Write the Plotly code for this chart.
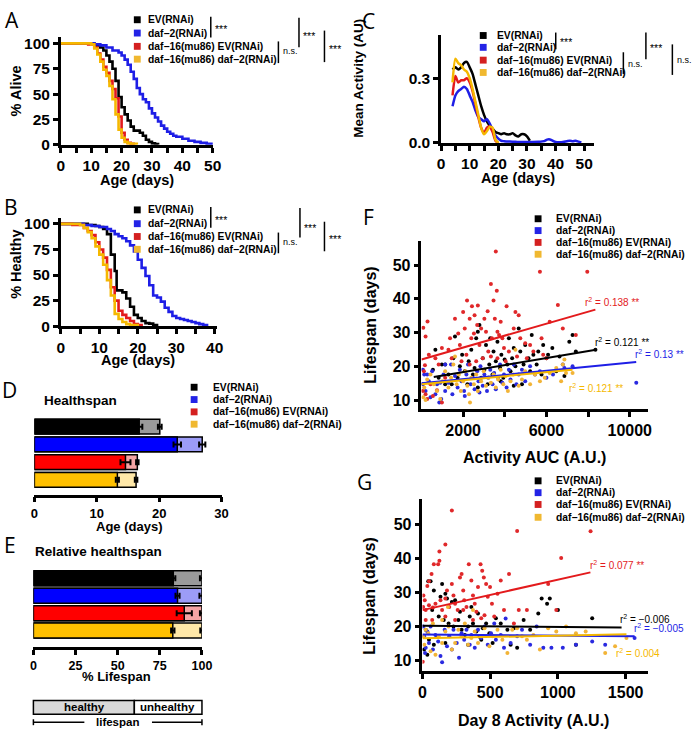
import plotly.graph_objects as go

W, H = 700, 745
FONT = "Liberation Sans, Arial, sans-serif"
LFONT = "Open Sans, DejaVu Sans, sans-serif"

def px(x):
    return x / W

def py(y):
    return 1 - y / H

# ---------------- data ----------------
groups = ["EV(RNAi)", "daf−2(RNAi)", "daf−16(mu86) EV(RNAi)", "daf−16(mu86) daf−2(RNAi)"]
line_colors = ["#000000", "#1e1ee6", "#e31a1c", "#f5b800"]
square_colors = ["#000000", "#2323e6", "#d42020", "#f0b830"]
dot_colors = ["#000000", "#2a2ae0", "#e0282a", "#f2b437"]
bar_dark = ["#000000", "#0000ff", "#ff0000", "#ffc000"]
bar_light = ["#9a9a9a", "#9c9cf7", "#f4a4a4", "#ffe8a8"]

# A: survival
A_EV_day = [0, 11, 12, 13, 14, 15, 16, 17, 18, 19, 20, 21, 22, 23, 24, 26, 27, 28, 29, 30, 31, 32]
A_EV_pct = [100, 99, 98, 96, 93, 88, 82, 75, 63, 47, 37, 30, 24, 18, 14, 12, 9, 5, 3, 1.5, 0.8, 0]
A_D2_day = [0, 11, 13, 15, 17, 19, 20, 21, 22, 23, 24, 25, 26, 27, 28, 29, 30, 31, 32, 33, 34, 35, 36, 37, 38, 40, 42, 44, 46, 48, 50]
A_D2_pct = [100, 99, 98, 96, 93, 91, 88, 84, 79, 72, 65, 56, 50, 45, 42, 36, 31, 27, 23, 19, 16, 13, 11, 9, 8, 6, 4, 3, 2, 1, 0]
A_D16EV_day = [0, 9, 11, 12, 13, 14, 15, 16, 17, 18, 19, 20, 21, 22, 23, 24]
A_D16EV_pct = [100, 99, 96, 90, 84, 77, 71, 63, 55, 46, 28, 12, 5, 2, 1, 0]
A_D16D2_day = [0, 10, 11, 12, 13, 14, 15, 16, 17, 18, 19, 20, 21, 22, 23, 25]
A_D16D2_pct = [100, 99, 95, 89, 82, 74, 68, 58, 45, 30, 15, 7, 3, 1.5, 1, 0]

# B: healthy
B_EV_day = [0, 7, 9, 10, 11, 12, 13, 14, 14.5, 16, 17, 18, 19, 20, 21, 22, 23, 24, 25]
B_EV_pct = [100, 99, 98, 97, 95, 90, 70, 54, 35, 33, 27, 19, 11, 8, 5, 3, 2.5, 1, 0]
B_D2_day = [0, 6, 8, 10, 12, 13, 14, 15, 16, 17, 18, 19, 20, 21, 22, 23, 24, 25, 26, 27, 28, 29, 30, 31, 32, 33, 34, 35, 36, 37, 38]
B_D2_pct = [100, 99, 98, 97, 95, 93, 90, 88, 86, 83, 79, 73, 65, 57, 49, 40, 30, 28, 24, 18, 14, 10, 8, 7, 6, 5, 4, 3, 2, 1, 0]
B_D16EV_day = [0, 3, 6, 7, 8, 9, 10, 11, 12, 13, 14, 15, 16, 17, 18, 19, 20, 21]
B_D16EV_pct = [100, 99, 96, 93, 89, 82, 75, 67, 55, 38, 25, 15, 11, 8, 5, 2, 1, 0]
B_D16D2_day = [0, 5, 6, 7, 8, 9, 10, 11, 12, 13, 14, 15, 16, 17, 18, 20]
B_D16D2_pct = [100, 99, 96, 92, 86, 78, 70, 60, 45, 30, 12, 7, 4, 2, 1, 0]

# C: mean activity
C_EV_day = [4, 5, 6, 7, 8, 9, 10, 11, 12, 13, 14, 15, 16, 17, 18, 19, 20, 21, 22, 23, 24, 25, 26, 27, 28, 29, 30, 31]
C_EV_act = [0.34, 0.35, 0.34, 0.35, 0.37, 0.375, 0.35, 0.32, 0.27, 0.22, 0.17, 0.13, 0.10, 0.08, 0.065, 0.05, 0.045, 0.04, 0.045, 0.04, 0.04, 0.045, 0.035, 0.03, 0.04, 0.04, 0.03, 0.01]
C_D2_day = [4, 5, 6, 7, 8, 9, 10, 11, 12, 13, 14, 15, 16, 17, 18, 19, 20, 21, 22, 24, 26, 28, 30, 32, 34, 36, 37, 38, 39, 40, 42, 44, 45, 46, 47, 48, 49]
C_D2_act = [0.17, 0.22, 0.24, 0.25, 0.26, 0.25, 0.22, 0.19, 0.15, 0.12, 0.11, 0.10, 0.11, 0.09, 0.06, 0.035, 0.02, 0.01, 0.008, 0.006, 0.005, 0.004, 0.004, 0.004, 0.005, 0.008, 0.015, 0.016, 0.01, 0.004, 0.003, 0.008, 0.01, 0.008, 0.01, 0.006, 0.002]
C_D16EV_day = [4, 5, 6, 7, 8, 9, 10, 11, 12, 13, 14, 15, 16, 17, 18, 19, 20]
C_D16EV_act = [0.22, 0.31, 0.28, 0.29, 0.29, 0.30, 0.28, 0.24, 0.18, 0.12, 0.07, 0.045, 0.07, 0.075, 0.05, 0.01, 0.0]
C_D16D2_day = [4, 5, 6, 7, 8, 9, 10, 11, 12, 13, 14, 15, 16, 17, 18, 19, 20]
C_D16D2_act = [0.28, 0.39, 0.37, 0.36, 0.34, 0.33, 0.30, 0.25, 0.19, 0.13, 0.07, 0.04, 0.055, 0.075, 0.07, 0.015, 0.0]

# D: healthspan (days)
D_healthy = [16.8, 22.9, 14.6, 13.3]
D_healthy_err = [0.5, 0.6, 0.8, 0.25]
D_life = [20.1, 26.9, 16.5, 16.3]
D_life_err = [0.3, 0.5, 0.2, 0.2]

# E: relative healthspan (% lifespan)
E_healthy = [83.0, 85.5, 89.5, 82.7]
E_healthy_err = [1.2, 1.2, 4.5, 1.0]
E_life = [100, 100, 100, 100]
E_life_err = [1.2, 1.5, 1.2, 1.0]

# F: activity AUC vs lifespan
F_EV_x = [549, 667, 824, 980, 1137, 1294, 1530, 1608, 1734, 1843, 1953, 2078, 2204, 2267, 2392, 2471, 2549, 2628, 2706, 2784, 2863, 2941, 3020, 3098, 3177, 3255, 3302, 3412, 3459, 3569, 3647, 3773, 3836, 3930, 3992, 4118, 4196, 4275, 4353, 4431, 4510, 4667, 4745, 4824, 4902, 4981, 5138, 5216, 5294, 5373, 5530, 5608, 5765, 5844, 6000, 6079, 6283, 6471, 6628, 6863, 7098, 7255, 7412, 8353, 3804, 4431, 2706, 1451, 1137]
F_EV_y = [19, 24.9, 16.6, 20.5, 14.7, 17.6, 22.4, 28.8, 16.6, 20, 23.4, 18.5, 14.7, 21.5, 24.9, 17.6, 19.5, 28.3, 30.2, 32.2, 16.6, 22.4, 19, 26.3, 14.7, 20.5, 28.3, 17.6, 24.4, 21.5, 27.3, 19.5, 23.4, 16.6, 22, 20.5, 28.3, 18.5, 22.4, 25.4, 20, 31.2, 24.4, 14.7, 20.5, 26.3, 22.4, 18.5, 29.3, 23.4, 20.5, 24.4, 17.6, 26.3, 22.4, 23.4, 25.4, 18.5, 22.9, 17.1, 27.3, 29.3, 24.4, 24.9, 15.6, 14.2, 13.7, 14.7, 20.5]
F_D2_x = [70, 133, 70, 196, 353, 431, 510, 667, 745, 855, 949, 1059, 1137, 1294, 1420, 1483, 1608, 1734, 1843, 1922, 2047, 2157, 2235, 2361, 2471, 2549, 2675, 2737, 2831, 2941, 3020, 3145, 3208, 3302, 3412, 3490, 3569, 3679, 3773, 3883, 3961, 4086, 4196, 4275, 4431, 4557, 4667, 4824, 4981, 5216, 5451, 5687, 6000, 6314, 6785, 6863, 7255, 2784, 2078, 902, 275, 1137, 10314]
F_D2_y = [19, 17.6, 14.7, 12.7, 15.6, 10.8, 18.5, 11.7, 14.7, 9.3, 10.3, 17.6, 12.7, 15.1, 20.5, 11.7, 17.1, 13.7, 19, 15.6, 12.7, 17.6, 20.5, 14.7, 16.6, 13.2, 18.5, 15.6, 20, 14.2, 17.6, 12.7, 16.6, 19, 14.7, 18, 13.2, 16.6, 20.5, 15.1, 17.6, 13.7, 19, 16.1, 20.5, 14.7, 17.6, 19, 15.6, 20, 17.6, 18.5, 16.6, 17.6, 20.5, 19.5, 20, 12.2, 11.2, 15.1, 17.6, 20.5, 15.1]
F_D16EV_x = [86, 196, 290, 165, 353, 118, 70, 549, 745, 980, 1137, 824, 667, 980, 1294, 1372, 1608, 1765, 1843, 2000, 2078, 2188, 2314, 2392, 2424, 2518, 2549, 2675, 2706, 2784, 2863, 3020, 3098, 3177, 3208, 3334, 3381, 3459, 3522, 3569, 3616, 3647, 3726, 3804, 3883, 3961, 4086, 4196, 4431, 4510, 4667, 4745, 4981, 5216, 5373, 5687, 5765, 5844, 6000, 6157, 6549, 6785, 7412, 7961, 196, 275, 431, 1451, 1922, 2157, 2314, 2628, 2941, 3334, 3647, 4039, 4588, 5059]
F_D16EV_y = [31.4, 28.8, 33.3, 20.3, 23.4, 18.5, 12.7, 11.2, 12.9, 9.3, 16.6, 20.5, 22.4, 25.4, 24.9, 28.3, 34.1, 29.7, 26.3, 36.1, 31.2, 39.5, 34.1, 28.3, 37.8, 29.7, 35.1, 32.2, 38, 26.3, 31.2, 34.1, 30.2, 36.3, 24.4, 44.4, 28.3, 39.5, 34.1, 54, 42.4, 30.2, 29.3, 33.2, 28.3, 25.4, 37.8, 24.4, 31.2, 36.1, 35.1, 28.3, 26.8, 26.3, 24.4, 48, 28.3, 23.4, 22.4, 33.2, 38.2, 31.2, 29.3, 48, 11.7, 10.3, 14.7, 22.4, 21.5, 23.4, 20.5, 21.5, 22.4, 22.9, 22.4, 21.5, 22.9, 22.4]
F_D16D2_x = [86, 196, 133, 275, 431, 588, 745, 902, 1012, 1137, 1294, 1420, 1530, 1608, 1687, 1796, 1890, 2000, 2110, 2204, 2283, 2330, 2392, 2518, 2628, 2706, 2863, 2988, 3098, 3208, 3334, 3459, 3569, 3679, 3804, 3930, 4039, 4149, 4275, 4400, 4510, 4667, 4824, 4981, 5216, 5451, 5687, 5922, 6157, 6471, 6706, 6863, 6941, 7255, 6785]
F_D16D2_y = [10.8, 10, 13.7, 16.1, 17.6, 14.7, 12.7, 10.3, 15.6, 18.5, 13.7, 16.6, 20.5, 22.9, 14.7, 17.6, 12.7, 15.6, 18.5, 14.2, 11.7, 9.3, 16.6, 14.7, 17.6, 12.7, 15.6, 18.5, 14.2, 16.6, 15.1, 17.6, 13.7, 16.1, 19, 14.7, 17.1, 12.7, 15.6, 17.6, 24.9, 14.2, 16.1, 18.5, 14.7, 17.6, 15.6, 16.6, 18, 19.5, 15.6, 22, 18, 18, 20.5]

# F regression lines (end points) and labels
F_fit_x = [[590, 8380], [0, 10310], [0, 8350], [0, 7250]]
F_fit_y = [[16.8, 24.9], [15.0, 21.3], [22.0, 36.8], [14.7, 19.0]]
F_r2 = ["0.121 **", "0.13 **", "0.138 **", "0.121 **"]

# G: day-8 activity vs lifespan
G_EV_x = [60, 43, 145, 84, 169, 133, 181, 241, 217, 72, 120, 157, 193, 229, 265, 289, 313, 337, 373, 398, 422, 446, 470, 494, 518, 542, 578, 627, 651, 675, 699, 747, 795, 855, 920, 880, 940, 1000, 1133, 1253, 24, 48, 84, 108, 169, 12, 36, 337, 434, 349, 277, 361, 410]
G_EV_y = [33.2, 33.2, 32.4, 30.5, 29.5, 28.6, 28.1, 27.6, 27.1, 24.7, 22.8, 21.8, 20.8, 19.9, 21.8, 18.9, 17.4, 19.9, 20.8, 18.4, 16.9, 19.4, 20.8, 17.9, 15, 22.3, 20.8, 18.9, 14.5, 19.4, 13.6, 21.8, 18.9, 23.7, 26.6, 28.1, 28.1, 24.7, 14.5, 22.3, 18.9, 16, 14.5, 16.9, 15, 13.1, 11.6, 14.5, 16, 22.8, 24.2, 25.6, 23.7]
G_D2_x = [5, 12, 24, 19, 36, 48, 60, 77, 96, 116, 133, 145, 164, 181, 198, 217, 229, 253, 270, 289, 308, 325, 349, 361, 386, 410, 434, 458, 482, 506, 542, 578, 602, 651, 699, 735, 795, 843, 892, 952, 1036, 1133, 1253, 1349, 1566, 614, 530]
G_D2_y = [19.9, 17, 13.6, 12.1, 18.4, 15, 19.9, 13.1, 17.4, 15.5, 11.2, 9.4, 18.9, 14.1, 17, 13.1, 18.9, 15, 10.7, 17.9, 16, 18.9, 14.5, 17.4, 13.6, 18.9, 16.5, 19.9, 14.5, 17.9, 16, 17.4, 13.6, 15, 17, 18.9, 14.5, 19.9, 13.6, 13.6, 13.6, 14.5, 15.5, 14.5, 16.5, 22.2, 20.8]
G_D16EV_x = [217, 169, 125, 116, 84, 125, 48, 36, 67, 7, 17, 5, 24, 48, 77, 96, 133, 145, 169, 181, 198, 217, 229, 241, 260, 277, 289, 301, 308, 325, 342, 361, 373, 386, 398, 410, 429, 441, 453, 470, 482, 499, 513, 530, 554, 578, 602, 639, 675, 711, 699, 1024, 1241, 928, 771, 988, 24, 72, 169, 241, 301, 373, 458, 2, 434]
G_D16EV_y = [54, 44, 41.9, 38.2, 38.2, 39.2, 33.2, 31.8, 35.3, 29, 27.6, 25.6, 24.7, 26.1, 25.5, 26.6, 27.6, 24.7, 28.1, 30.5, 25.6, 32.4, 29, 26.6, 24.7, 34.3, 35.3, 30.5, 27.6, 25.6, 38.2, 33.4, 29, 26.6, 24.2, 31.5, 38.2, 36.3, 34.3, 32.4, 28.6, 31.5, 26.6, 22.8, 29.5, 33.4, 24.7, 35.3, 20.8, 24.7, 48, 40, 47.9, 32.4, 24.7, 24.7, 21.8, 21.8, 22.8, 21.8, 24.7, 21.8, 23.2, 9.5, 22.3]
G_D16D2_x = [5, 14, 24, 43, 60, 77, 96, 120, 145, 169, 193, 217, 241, 265, 289, 313, 337, 361, 386, 410, 434, 458, 494, 518, 554, 590, 627, 663, 699, 735, 771, 819, 867, 928, 988, 1060, 1133, 1205, 1349, 1422, 1506, 188, 373, 145]
G_D16D2_y = [17, 14.5, 18.9, 17.9, 12.6, 20.8, 11.6, 17, 15, 18.4, 19.9, 13.1, 15, 18.9, 17, 20.8, 14.5, 16.5, 18.4, 15, 17, 19.4, 14.1, 17, 18.9, 16, 12.1, 18.9, 19.4, 17, 16, 17.4, 13.1, 19.4, 18.4, 19.9, 17.9, 18.4, 12.1, 14.1, 16.5, 25.6, 24.7, 21.8]

G_fit_x = [[0, 1470], [0, 1566], [0, 1240], [0, 1506]]
G_fit_y = [[20.1, 19.6], [17.5, 17.0], [24.7, 35.8], [16.4, 17.6]]
G_r2 = ["−0.006", "−0.005", "0.077 **", "0.004"]

# ---------------- figure ----------------
fig = go.Figure()

A_days = [A_EV_day, A_D2_day, A_D16EV_day, A_D16D2_day]
A_pcts = [A_EV_pct, A_D2_pct, A_D16EV_pct, A_D16D2_pct]
B_days = [B_EV_day, B_D2_day, B_D16EV_day, B_D16D2_day]
B_pcts = [B_EV_pct, B_D2_pct, B_D16EV_pct, B_D16D2_pct]
C_days = [C_EV_day, C_D2_day, C_D16EV_day, C_D16D2_day]
C_acts = [C_EV_act, C_D2_act, C_D16EV_act, C_D16D2_act]
for i, g in enumerate(groups):
    fig.add_trace(go.Scatter(x=A_days[i], y=A_pcts[i], mode="lines", name=g,
                             line=dict(color=line_colors[i], width=2.6, shape="hv"),
                             xaxis="x", yaxis="y"))
for i, g in enumerate(groups):
    fig.add_trace(go.Scatter(x=B_days[i], y=B_pcts[i], mode="lines", name=g,
                             line=dict(color=line_colors[i], width=2.6, shape="hv"),
                             xaxis="x2", yaxis="y2"))
for i, g in enumerate(groups):
    fig.add_trace(go.Scatter(x=C_days[i], y=C_acts[i], mode="lines", name=g,
                             line=dict(color=line_colors[i], width=2.5, shape="spline", smoothing=0.6),
                             xaxis="x3", yaxis="y3"))

err_style = dict(type="data", color="black", thickness=2, width=3, visible=True)
# D bars
fig.add_trace(go.Bar(y=groups, x=D_life, orientation="h", width=0.83,
                     marker=dict(color=bar_light, line=dict(color="black", width=1.5)),
                     error_x=dict(array=D_life_err, **err_style), xaxis="x4", yaxis="y4"))
fig.add_trace(go.Bar(y=groups, x=D_healthy, orientation="h", width=0.83,
                     marker=dict(color=bar_dark, line=dict(color="black", width=1.5)),
                     error_x=dict(array=D_healthy_err, **err_style), xaxis="x4", yaxis="y4"))
# E bars
fig.add_trace(go.Bar(y=groups, x=E_life, orientation="h", width=0.86,
                     marker=dict(color=bar_light, line=dict(color="black", width=1.5)),
                     error_x=dict(array=E_life_err, **err_style), xaxis="x5", yaxis="y5"))
fig.add_trace(go.Bar(y=groups, x=E_healthy, orientation="h", width=0.86,
                     marker=dict(color=bar_dark, line=dict(color="black", width=1.5)),
                     error_x=dict(array=E_healthy_err, **err_style), xaxis="x5", yaxis="y5"))

F_xs = [F_EV_x, F_D2_x, F_D16EV_x, F_D16D2_x]
F_ys = [F_EV_y, F_D2_y, F_D16EV_y, F_D16D2_y]
G_xs = [G_EV_x, G_D2_x, G_D16EV_x, G_D16D2_x]
G_ys = [G_EV_y, G_D2_y, G_D16EV_y, G_D16D2_y]
for i, g in enumerate(groups):
    fig.add_trace(go.Scatter(x=F_xs[i], y=F_ys[i], mode="markers", name=g,
                             marker=dict(color=dot_colors[i], size=4), xaxis="x6", yaxis="y6"))
for i, g in enumerate(groups):
    fig.add_trace(go.Scatter(x=F_fit_x[i], y=F_fit_y[i], mode="lines", name=g,
                             line=dict(color=line_colors[i], width=2), xaxis="x6", yaxis="y6"))
for i, g in enumerate(groups):
    fig.add_trace(go.Scatter(x=G_xs[i], y=G_ys[i], mode="markers", name=g,
                             marker=dict(color=dot_colors[i], size=4), xaxis="x7", yaxis="y7"))
for i, g in enumerate(groups):
    fig.add_trace(go.Scatter(x=G_fit_x[i], y=G_fit_y[i], mode="lines", name=g,
                             line=dict(color=line_colors[i], width=2), xaxis="x7", yaxis="y7"))

# ---------------- axes ----------------
def axis(dom_px, rng, vertical, anchor, size, **kw):
    if vertical:
        dom = [py(dom_px[0]), py(dom_px[1])]
    else:
        dom = [px(dom_px[0]), px(dom_px[1])]
    d = dict(domain=dom, range=rng, anchor=anchor, showline=True, linewidth=2.5,
             linecolor="black", ticks="outside", ticklen=5, tickwidth=2.5,
             tickcolor="black", showgrid=False, zeroline=False, fixedrange=True,
             tickfont=dict(family=FONT, size=size, color="black", weight="bold"))
    d.update(kw)
    return d

minor5 = dict(dtick=5, ticks="outside", ticklen=5, tickwidth=2.5, tickcolor="black", showgrid=False)

layout = dict(
    width=W, height=H, margin=dict(l=0, r=0, t=0, b=0),
    paper_bgcolor="white", plot_bgcolor="white", showlegend=False,
    barmode="overlay",
    xaxis=axis([58, 213], [0, 50], False, "y", 15.5, dtick=10, minor=minor5),
    yaxis=axis([144, 35], [0, 105.8], True, "x", 15.5, tickvals=[0, 25, 50, 75, 100]),
    xaxis2=axis([58, 217], [0, 40.5], False, "y2", 15.5, dtick=10, minor=minor5),
    yaxis2=axis([328, 218], [0, 106], True, "x2", 15.5, tickvals=[0, 25, 50, 75, 100]),
    xaxis3=axis([446, 602], [0, 53.4], False, "y3", 15.5, dtick=10, minor=minor5),
    yaxis3=axis([142, 32], [0, 0.502], True, "x3", 15.5, tickvals=[0, 0.3], ticktext=["0.0", "0.3"]),
    xaxis4=axis([31, 222], [0, 30], False, "y4", 13, tickvals=[0, 10, 20, 30]),
    yaxis4=dict(domain=[py(499), py(420)], range=[-0.833, 3.556], anchor="x4", type="category",
                categoryorder="array", categoryarray=groups[::-1], visible=False, fixedrange=True),
    xaxis5=axis([30, 202], [0, 100], False, "y5", 12.5, tickvals=[0, 25, 50, 75, 100]),
    yaxis5=dict(domain=[py(654), py(570)], range=[-0.96, 3.79], anchor="x5", type="category",
                categoryorder="array", categoryarray=groups[::-1], visible=False, fixedrange=True),
    xaxis6=axis([426, 657], [0, 10870], False, "y6", 16,
                tickvals=[2000, 4000, 6000, 8000, 10000], ticktext=["2000", " ", "6000", " ", "10000"]),
    yaxis6=axis([412, 242], [7.37, 57.0], True, "x6", 16, tickvals=[10, 20, 30, 40, 50]),
    xaxis7=axis([427, 657], [0, 1664], False, "y7", 16, tickvals=[0, 500, 1000, 1500]),
    yaxis7=axis([678, 503], [6.8, 57.5], True, "x7", 16, tickvals=[10, 20, 30, 40, 50]),
)
fig.update_layout(**layout)

annotations = []
shapes = []

def text(x, y, s, size, color="black", bold=False, xanchor="left", family=FONT, angle=0):
    annotations.append(dict(x=px(x), y=py(y), xref="paper", yref="paper", text=s,
                            showarrow=False, xanchor=xanchor, yanchor="middle",
                            textangle=angle, borderpad=0,
                            font=dict(family=family, size=size, color=color,
                                      weight="bold" if bold else "normal")))

def vline(x, y0, y1, width=1.5):
    shapes.append(dict(type="line", xref="paper", yref="paper", x0=px(x), x1=px(x),
                       y0=py(y0), y1=py(y1), line=dict(color="black", width=width)))

def hline(x0, x1, y, width=1.5):
    shapes.append(dict(type="line", xref="paper", yref="paper", x0=px(x0), x1=px(x1),
                       y0=py(y), y1=py(y), line=dict(color="black", width=width)))

def legend(sq_x, txt_x, rows):
    for i, g in enumerate(groups):
        cy = rows[i]
        shapes.append(dict(type="rect", xref="paper", yref="paper",
                           x0=px(sq_x - 3.5), x1=px(sq_x + 3.5), y0=py(cy + 3.5), y1=py(cy - 3.5),
                           fillcolor=square_colors[i], line=dict(width=0)))
        text(txt_x, cy, g, 10.3, bold=True)

# panel letters
for L, x, y in [("A", 8, 17), ("B", 7, 207), ("C", 372, 18), ("D", 6, 393),
                ("E", 6, 550), ("F", 372, 217), ("G", 368, 486)]:
    text(x, y, L, 21, xanchor="center", family=LFONT)

# axis titles
text(136, 180, "Age (days)", 14.5, bold=True, xanchor="center")
text(12, 89, "% Alive", 14.5, bold=True, xanchor="center", angle=-90)
text(137, 362, "Age (days)", 14.5, bold=True, xanchor="center")
text(12, 265, "% Healthy", 14.5, bold=True, xanchor="center", angle=-90)
text(524, 178, "Age (days)", 14.5, bold=True, xanchor="center")
text(362, 76, "Mean Activity (AU)", 13.5, bold=True, xanchor="center", angle=-90)
text(128, 531, "Age (days)", 13, bold=True, xanchor="center")
text(115, 684, "% Lifespan", 13, bold=True, xanchor="center")
text(40, 403, "Healthspan", 13.5, bold=True)
text(31, 557, "Relative healthspan", 13.5, bold=True)
text(374, 327, "Lifespan (days)", 16, bold=True, xanchor="center", angle=-90)
text(541, 461, "Activity AUC (A.U.)", 16, bold=True, xanchor="center")
text(373, 602, "Lifespan (days)", 16, bold=True, xanchor="center", angle=-90)
text(540, 728, "Day 8 Activity (A.U.)", 16, bold=True, xanchor="center")

# legends
legend(136, 146, [17, 30.5, 44, 57])
legend(136, 146, [210, 224, 237, 250])
legend(489, 502, [33, 45, 58, 70.5])
legend(194, 212, [390, 402.5, 415, 427.5])
legend(545, 562, [219, 231, 243, 255])
legend(545, 562, [485, 497, 509, 522])

# significance brackets
def sig(x, y0, y1, label, ty):
    vline(x, y0, y1)
    size = 10.5 if label == "***" else 9
    text(x + 3.5, ty + (2 if label == "***" else 0), label, size)

sig(211, 14, 35, "***", 24)
sig(280, 39, 61, "n.s.", 49)
sig(301, 15, 45, "***", 32)
sig(327, 28, 60, "***", 45)

sig(211, 207, 228, "***", 218)
sig(280, 233, 254, "n.s.", 243)
sig(302, 208, 238, "***", 226)
sig(327, 222, 252, "***", 238)

sig(563, 30, 47, "***", 38)
sig(632, 50, 72, "n.s.", 62)
sig(655, 30, 57, "***", 44)
sig(682, 42, 73, "n.s.", 58)

# r^2 labels
F_lab_pos = [(602, 344), (643, 356), (592, 303), (575, 391)]
G_lab_pos = [(628, 625), (642, 634), (597, 570), (623, 660)]
for i in range(4):
    x, y = F_lab_pos[i]
    text(x, y, "r<sup>2</sup> = " + F_r2[i], 10, color=line_colors[i])
    x, y = G_lab_pos[i]
    text(x, y, "r<sup>2</sup> = " + G_r2[i], 10, color=line_colors[i])

# healthy / unhealthy schematic
shapes.append(dict(type="rect", xref="paper", yref="paper", x0=px(30), x1=px(133), y0=py(722), y1=py(708),
                   fillcolor="#d9d9d9", line=dict(color="black", width=1.5)))
shapes.append(dict(type="rect", xref="paper", yref="paper", x0=px(133), x1=px(202), y0=py(722), y1=py(708),
                   fillcolor="white", line=dict(color="black", width=1.5)))
text(82, 715, "healthy", 11.5, bold=True, xanchor="center")
text(167, 715, "unhealthy", 11.5, bold=True, xanchor="center")
hline(30, 82, 730)
hline(151, 202, 730)
vline(30, 727, 733)
vline(202, 727, 733)
text(116, 730, "lifespan", 11.5, bold=True, xanchor="center")

fig.update_layout(annotations=annotations, shapes=shapes)
fig.write_html("out.html", config={"displayModeBar": False},
               post_script="document.body.style.margin='0px';")
